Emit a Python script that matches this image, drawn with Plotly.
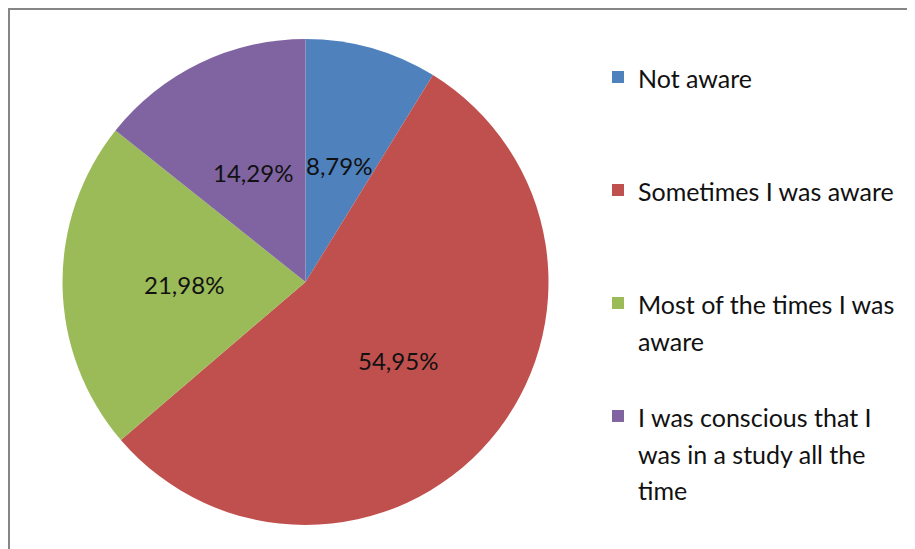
import math
import plotly.graph_objects as go

categories = [
    "Not aware",
    "Sometimes I was aware",
    "Most of the times I was<br>aware",
    "I was conscious that I<br>was in a study all the<br>time",
]
percent_values = [8.79, 54.95, 21.98, 14.29]
slice_colors = ["#4F81BD", "#C0504D", "#9BBB59", "#8064A2"]

W, H = 915, 549
FONT = "Lato, 'Liberation Sans', Arial, sans-serif"
TEXT_COLOR = "#111111"

# pie placement (paper fractions)
dom_x = [54.5 / W, 540.5 / W]
dom_y = [32 / H, 518 / H]


# legend labels: each line in 25px text, padded to 3 lines so items are evenly spaced
def legend_label(lbl, n=3):
    lines = lbl.split("<br>")
    out = [f'<span style="font-size:25px">{ln}</span>' for ln in lines]
    out += [" "] * (n - len(lines))
    return "<br>".join(out)


legend_labels = [legend_label(c) for c in categories]
slice_text = [f"{v:.2f}".replace(".", ",") + "%" for v in percent_values]

fig = go.Figure(
    go.Pie(
        labels=legend_labels,
        values=percent_values,
        textinfo="none",
        marker=dict(colors=slice_colors, line=dict(width=0)),
        sort=False,
        direction="clockwise",
        rotation=0,
        hoverinfo="percent",
        domain=dict(x=dom_x, y=dom_y),
    )
)

# data labels at half radius, at each slice's mid angle (derived from the values)
cx = (dom_x[0] + dom_x[1]) / 2
cy = (dom_y[0] + dom_y[1]) / 2
R = min((dom_x[1] - dom_x[0]) * W, (dom_y[1] - dom_y[0]) * H) / 2
total = sum(percent_values)
annotations = []
cum = 0.0
for v, t in zip(percent_values, slice_text):
    mid = (cum + v / 2) / total * 2 * math.pi
    cum += v
    annotations.append(
        dict(
            x=cx + 0.5 * R * math.sin(mid) / W,
            y=cy + 0.5 * R * math.cos(mid) / H,
            xref="paper",
            yref="paper",
            text=t,
            showarrow=False,
            xanchor="center",
            yanchor="middle",
            font=dict(family=FONT, size=24, color=TEXT_COLOR),
        )
    )

fig.update_layout(
    width=W,
    height=H,
    margin=dict(l=0, r=0, t=0, b=0),
    paper_bgcolor="white",
    plot_bgcolor="white",
    font=dict(family=FONT, size=24, color=TEXT_COLOR),
    annotations=annotations,
    legend=dict(
        x=590 / W,
        y=1 - 44.2 / H,
        xanchor="left",
        yanchor="top",
        valign="top",
        itemwidth=30,
        font=dict(family=FONT, size=28.2, color=TEXT_COLOR),
        bgcolor="rgba(0,0,0,0)",
    ),
    shapes=[
        dict(
            type="rect",
            xref="paper",
            yref="paper",
            x0=1 / W,
            x1=1.05,
            y0=-0.05,
            y1=1 - 1 / H,
            line=dict(color="#868686", width=2),
            fillcolor="rgba(0,0,0,0)",
            layer="below",
        )
    ],
)

fig.write_html("out.html")
